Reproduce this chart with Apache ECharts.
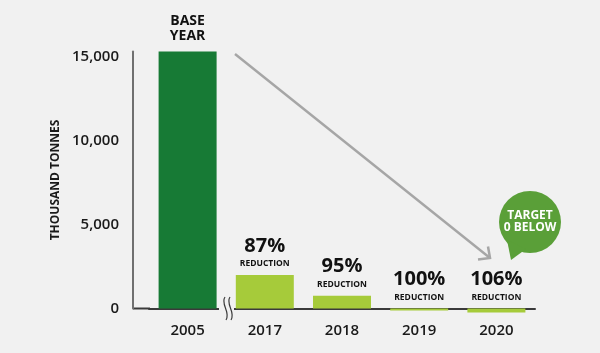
<!DOCTYPE html>
<html>
<head>
<meta charset="utf-8">
<script src="https://cdn.jsdelivr.net/npm/echarts@6/dist/echarts.min.js"></script>
<style>
  html, body { margin: 0; padding: 0; background: #f1f1f1; }
  #chart { width: 600px; height: 353px; }
</style>
</head>
<body>
<div id="chart"></div>
<script>
const years = ['2005', '2017', '2018', '2019', '2020']
const tonnes = [15300, 1990, 760, -120, -240]
const reductions = ['', '87%', '95%', '100%', '106%']
const yTicks = [0, 5000, 10000, 15000]

const baseColor = '#177a35'
const barColor = '#a6cb3a'
const font = 'Open Sans'

// wavy axis-break marks between 2005 and 2017
function wave(x0) {
  return {
    type: 'bezierCurve',
    shape: { x1: x0, y1: 297, cpx1: x0 - 5, cpy1: 304, cpx2: x0 + 6, cpy2: 312, x2: x0 + 1, y2: 320 },
    style: { fill: null, stroke: '#3a3a3a', lineWidth: 1.2 },
    z: 11
  }
}

const chart = echarts.init(document.getElementById('chart'))

chart.setOption({
  backgroundColor: '#f1f1f1',
  animation: false,
  textStyle: { fontFamily: font },
  grid: { left: 149, right: 65, top: 51.5, bottom: 44.5 },
  xAxis: {
    type: 'category',
    data: years,
    axisLine: { lineStyle: { color: '#3a3a3a', width: 2 } },
    axisTick: { show: false },
    axisLabel: { color: '#1a1a1a', fontSize: 15, fontWeight: 600, margin: 15 }
  },
  yAxis: {
    type: 'value',
    min: 0,
    max: 15300,
    interval: 5000,
    offset: 16,
    name: 'THOUSAND TONNES',
    nameLocation: 'middle',
    nameGap: 71,
    nameTextStyle: { color: '#1a1a1a', fontSize: 12, fontWeight: 'bold' },
    axisLine: { show: true, onZero: false, lineStyle: { color: '#707070', width: 2 } },
    axisTick: { show: false },
    splitLine: { show: false },
    axisLabel: {
      margin: 14,
      fontSize: 15,
      fontWeight: 600,
      color: '#1a1a1a',
      formatter: v => yTicks.includes(v) ? v.toLocaleString('en-US') : ''
    }
  },
  series: [{
    type: 'bar',
    barWidth: 58,
    clip: false,
    data: tonnes.map((v, i) => ({
      value: v,
      itemStyle: { color: i === 0 ? baseColor : barColor },
      label: { distance: i === 0 ? 8 : 4 }
    })),
    label: {
      show: true,
      position: 'top',
      formatter: p => p.dataIndex === 0
        ? '{b|BASE}\n{b|YEAR}'
        : '{p|' + reductions[p.dataIndex] + '}\n{r|REDUCTION}',
      rich: {
        b: { fontSize: 14, fontWeight: 'bold', color: '#111', lineHeight: 15, fontFamily: font },
        p: { fontSize: 20, fontWeight: 'bold', color: '#111', lineHeight: 22, fontFamily: font },
        r: { fontSize: 8.5, fontWeight: 'bold', color: '#111', lineHeight: 14, fontFamily: font }
      }
    }
  }],
  graphic: [
    // baseline stub between the offset y axis and the first band
    { type: 'line', shape: { x1: 133, y1: 308.5, x2: 150, y2: 308.5 }, style: { stroke: '#3a3a3a', lineWidth: 2 } },
    { type: 'rect', shape: { x: 219, y: 304, width: 15, height: 10 }, style: { fill: '#f1f1f1' }, z: 10 },
    wave(225),
    wave(230),
    // trend arrow
    { type: 'line', shape: { x1: 235, y1: 54, x2: 490, y2: 258 }, style: { stroke: '#a6a6a6', lineWidth: 2.5 }, z: 5 },
    { type: 'polyline', shape: { points: [[478, 259.5], [490, 258], [488, 246.5]] }, style: { fill: null, stroke: '#a6a6a6', lineWidth: 2.5 }, z: 5 },
    // target bubble
    { type: 'circle', shape: { cx: 530, cy: 222, r: 31 }, style: { fill: '#5a9f38' }, z: 6 },
    { type: 'polygon', shape: { points: [[507, 240], [511, 260], [526, 249]] }, style: { fill: '#5a9f38' }, z: 6 },
    {
      type: 'text', x: 530, y: 222, z: 7,
      style: {
        text: 'TARGET\n0 BELOW', fill: '#fff', fontFamily: font, fontWeight: 'bold',
        fontSize: 12, lineHeight: 12, align: 'center', verticalAlign: 'middle'
      }
    }
  ]
})
</script>
</body>
</html>
